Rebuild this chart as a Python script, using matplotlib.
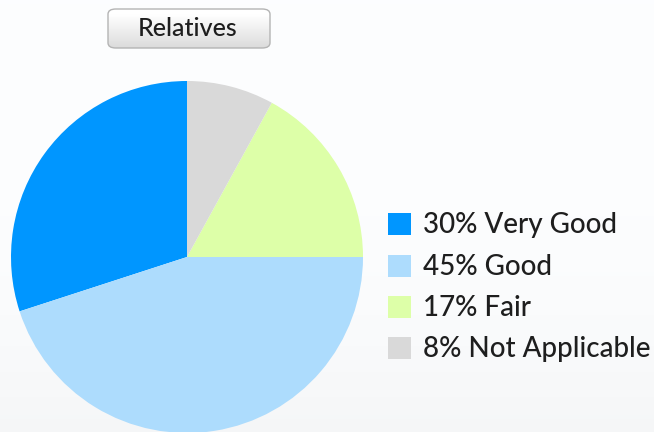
import matplotlib.pyplot as plt
import numpy as np
from matplotlib.patches import Rectangle, FancyBboxPatch

title = 'Relatives'
categories = ['Very Good', 'Good', 'Fair', 'Not Applicable']
percents = [30, 45, 17, 8]
colors = ['#0096ff', '#addcfd', '#ddffa8', '#d9d9d9']

W, H = 654, 432


def px(x, y):
    # pixel coords (top-left origin) -> figure fraction
    return x / W, 1 - y / H


def main():
    plt.rcParams['font.family'] = ['Lato', 'DejaVu Sans']
    fig = plt.figure(figsize=(W / 100, H / 100), dpi=100)
    fig.patch.set_facecolor('#fdfeff')

    # faint grey haze near the bottom edge
    bg = fig.add_axes([0, 0, 1, 1], zorder=-5)
    grad = np.linspace(0, 1, 100)[:, None] ** 3
    haze = np.ones((100, 1, 3)) * np.array([0.992, 0.996, 1.0])
    haze = haze - grad[..., None] * 0.03
    bg.imshow(haze, aspect='auto', extent=[0, 1, 0, 1], origin='upper')
    bg.axis('off')

    # pie
    cx, cy, r = 187, 257, 176
    l, b = px(cx - r, cy + r)
    ax = fig.add_axes([l, b, 2 * r / W, 2 * r / H])
    ax.pie(percents, colors=colors, startangle=90, counterclock=True,
           radius=1, wedgeprops=dict(linewidth=0))
    ax.set_xlim(-1, 1)
    ax.set_ylim(-1, 1)
    ax.axis('off')

    # title button
    x0, y0 = px(108, 48)
    x1, y1 = px(270, 9)
    box = FancyBboxPatch((x0, y0), x1 - x0, y1 - y0,
                         boxstyle='round,pad=0,rounding_size=0.012',
                         transform=fig.transFigure, facecolor='none',
                         edgecolor='#b4b4b4', linewidth=1.0, zorder=3)
    fig.add_artist(box)
    tax = fig.add_axes([0, 0, 1, 1], zorder=2)
    tax.set_xlim(0, 1)
    tax.set_ylim(0, 1)
    tax.axis('off')
    shade = np.linspace(1.0, 0.86, 50)
    shade = np.concatenate([np.ones(8), shade])[:, None]
    img = tax.imshow(np.repeat(shade[..., None], 3, axis=2), aspect='auto',
                     extent=[x0, x1, y0, y1], origin='upper', zorder=2)
    clip = FancyBboxPatch((x0, y0), x1 - x0, y1 - y0,
                          boxstyle='round,pad=0,rounding_size=0.012',
                          transform=fig.transFigure, facecolor='none',
                          edgecolor='none')
    fig.add_artist(clip)
    img.set_clip_path(clip)
    tx, ty = px(188, 28)
    fig.text(tx, ty, title, ha='center', va='center', fontsize=18,
             fontweight='medium', color='#1e1e1e', zorder=4)

    # legend
    lx = 388
    rows = [224, 266, 307, 348]
    for pct, name, c, ry in zip(percents, categories, colors, rows):
        sx, sy = px(lx, ry + 11)
        fig.add_artist(Rectangle((sx, sy), 23 / W, 22 / H, facecolor=c,
                                 edgecolor='none', transform=fig.transFigure))
        tx, ty = px(423, ry + 1)
        fig.text(tx, ty, f'{pct}% {name}', ha='left', va='center',
                 fontsize=20, fontweight='medium', color='#1e1e1e')

    fig.savefig('out.png', dpi=100, facecolor=fig.get_facecolor())


if __name__ == "__main__":
    main()
